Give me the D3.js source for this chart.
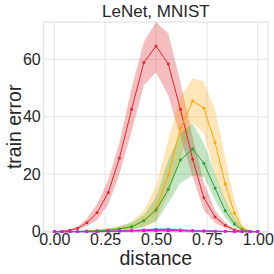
<!DOCTYPE html>
<html><head><meta charset="utf-8">
<script src="https://cdn.jsdelivr.net/npm/d3@7"></script>
<style>body{margin:0;background:#fff}svg{display:block;font-family:"Liberation Sans",Arial,sans-serif}</style>
</head><body><svg id="c" width="274" height="274"></svg>
<script>
const distance = [0, 0.038, 0.077, 0.115, 0.16, 0.21, 0.265, 0.32, 0.38, 0.44, 0.5, 0.56, 0.62, 0.68, 0.735, 0.79, 0.84, 0.885, 0.923, 0.962, 1.0];
const redMean  = [0, 0.1, 0.5, 1.2, 3.1, 6.6, 13.6, 25.6, 42.6, 58.9, 64.6, 58.4, 42.6, 25.2, 11.8, 5.1, 2.2, 0.6, 0.1, 0, 0];
const redUp    = [0, 0.2, 0.8, 1.8, 4.5, 9.5, 18, 31, 50, 66, 73, 69, 52, 33, 17, 7.5, 3.2, 1.0, 0.2, 0, 0];
const redLo    = [0, 0, 0.2, 0.7, 2, 4, 9.5, 20, 35, 51, 55.5, 47.5, 33, 19, 7.5, 3, 1.2, 0.3, 0, 0, 0];
const orangeMean = [0, 0, 0, 0.1, 0.2, 0.4, 0.6, 0.9, 1.7, 3.8, 8.1, 19.5, 36, 45.5, 43, 31, 16.6, 6.4, 1.2, 0.2, 0];
const orangeUp   = [0, 0, 0, 0.2, 0.4, 0.8, 1.3, 2.0, 3.5, 7.5, 16, 32, 47, 53.4, 52.3, 42.4, 26, 11, 2.5, 0.4, 0];
const orangeLo   = [0, 0, 0, 0, 0.1, 0.2, 0.3, 0.4, 0.6, 1.7, 4, 13, 26, 38, 34, 20, 10, 3, 0.5, 0, 0];
const greenMean = [0, 0, 0, 0.1, 0.2, 0.3, 0.5, 1.0, 1.7, 3.8, 7.5, 14.7, 25, 28.8, 23.8, 15.1, 7.3, 2.7, 0.6, 0.1, 0];
const greenUp   = [0, 0, 0, 0.2, 0.4, 0.6, 1.0, 1.8, 3.2, 5.8, 12, 25, 34.4, 37.7, 30.8, 20.3, 11, 4.8, 1.2, 0.2, 0];
const greenLo   = [0, 0, 0, 0, 0.1, 0.1, 0.2, 0.4, 0.8, 1.7, 3.5, 10, 17, 19.5, 19, 11, 4.8, 1.3, 0.2, 0, 0];
const blueMean = [0, 0, 0, 0, 0, 0, 0.1, 0.2, 0.4, 0.6, 0.8, 0.8, 0.6, 0.4, 0.3, 0.2, 0.1, 0, 0, 0, 0];
const purpleMean = [0, 0, 0, 0, 0, 0, 0.1, 0.2, 0.3, 0.4, 0.5, 0.5, 0.4, 0.3, 0.2, 0.1, 0.1, 0, 0, 0, 0];
const magentaMean = [0, 0, 0, 0, 0, 0, 0.1, 0.2, 0.3, 0.3, 0.3, 0.3, 0.3, 0.2, 0.2, 0.1, 0.1, 0, 0, 0, 0];
const xTicks = [0, 0.25, 0.5, 0.75, 1.0];
const yTicks = [0, 20, 40, 60];
const title = "LeNet, MNIST";
const xLabel = "distance";
const yLabel = "train error";

const series = [
  {color: "#e0262a", mean: redMean, up: redUp, lo: redLo, op: 0.3},
  {color: "#ffa500", mean: orangeMean, up: orangeUp, lo: orangeLo, op: 0.28},
  {color: "#2ca02c", mean: greenMean, up: greenUp, lo: greenLo, op: 0.28},
  {color: "#1f77b4", mean: blueMean, up: blueMean.map(v => v * 1.6), lo: blueMean.map(v => v * 0.4), op: 0.3},
  {color: "#9467bd", mean: purpleMean, up: purpleMean.map(v => v * 1.6), lo: purpleMean.map(v => v * 0.4), op: 0.3},
  {color: "#ff00ff", mean: magentaMean, up: magentaMean.map(v => v * 1.4), lo: magentaMean.map(v => v * 0.6), op: 0.3}
];

const L = 43.7, R = 268, T = 22, B = 231.7;
const x = d3.scaleLinear().domain([-0.052, 1.05]).range([L, R]);
const y = d3.scaleLinear().domain([0, 73]).range([B, T]);
const svg = d3.select("#c");

// grid
const g = svg.append("g");
g.selectAll(".vg").data(xTicks).join("line").attr("x1", d => x(d)).attr("x2", d => x(d))
  .attr("y1", T).attr("y2", B).attr("stroke", "#e3e3e3").attr("stroke-width", 1);
g.selectAll(".hg").data(yTicks).join("line").attr("y1", d => y(d)).attr("y2", d => y(d))
  .attr("x1", L).attr("x2", R).attr("stroke", "#e3e3e3").attr("stroke-width", 1);
svg.append("rect").attr("x", L).attr("y", T).attr("width", R - L).attr("height", B - T + 0.5)
  .attr("fill", "none").attr("stroke", "#dcdcdc").attr("stroke-width", 1);

const clip = svg.append("clipPath").attr("id", "cp").append("rect")
  .attr("x", L).attr("y", T).attr("width", R - L).attr("height", B - T + 1);
const plot = svg.append("g").attr("clip-path", "url(#cp)");

const area = d3.area().x((d, i) => x(distance[i])).y0(d => y(d[0])).y1(d => y(d[1]));
const line = d3.line().x((d, i) => x(distance[i])).y(d => y(d));

series.forEach(s => {
  const band = s.lo.map((v, i) => [v, s.up[i]]);
  plot.append("path").datum(band).attr("d", area).attr("fill", s.color).attr("fill-opacity", s.op).attr("stroke", "none");
});
series.forEach(s => {
  plot.append("path").datum(s.mean).attr("d", line).attr("fill", "none").attr("stroke", s.color).attr("stroke-width", 1);
  plot.selectAll(null).data(s.mean).join("rect")
    .attr("x", (d, i) => x(distance[i]) - 1.3).attr("y", d => y(d) - 1.3)
    .attr("width", 2.6).attr("height", 2.6).attr("fill", s.color);
});

// axes
const xa = svg.append("g").attr("transform", `translate(0,${B})`)
  .call(d3.axisBottom(x).tickValues(xTicks).tickFormat(d3.format(".2f")).tickSize(0).tickPadding(2));
const ya = svg.append("g").attr("transform", `translate(${L},0)`)
  .call(d3.axisLeft(y).tickValues(yTicks).tickFormat(d3.format("d")).tickSize(0).tickPadding(3));
[xa, ya].forEach(a => {
  a.select(".domain").remove();
  a.selectAll("text").attr("font-size", 16).attr("fill", "#262626").attr("font-family", "Liberation Sans, Arial, sans-serif");
});

svg.append("text").attr("x", (L + R) / 2).attr("y", 17).attr("text-anchor", "middle")
  .attr("font-size", 17).attr("fill", "#262626").text(title);
svg.append("text").attr("x", (L + R) / 2).attr("y", 265).attr("text-anchor", "middle")
  .attr("font-size", 19.5).attr("fill", "#262626").text(xLabel);
svg.append("text").attr("transform", `translate(21,${(T + B) / 2}) rotate(-90)`).attr("text-anchor", "middle")
  .attr("font-size", 19.5).attr("fill", "#262626").text(yLabel);
</script></body></html>
